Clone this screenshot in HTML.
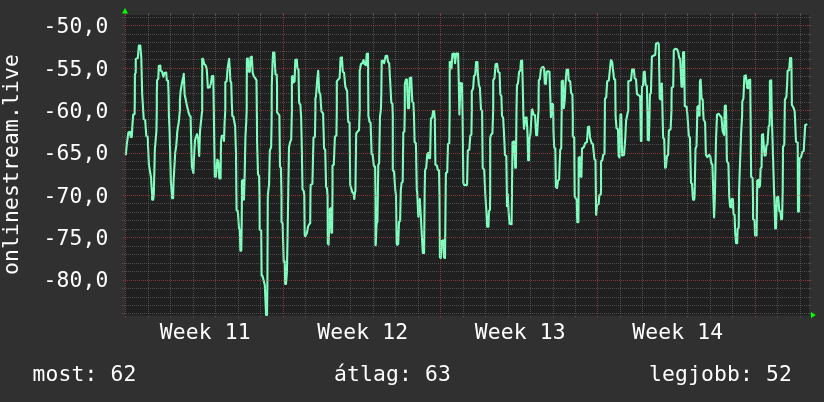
<!DOCTYPE html>
<html><head><meta charset="utf-8"><title>onlinestream.live</title>
<style>
html,body{margin:0;padding:0;background:#303030;}
body{width:824px;height:402px;overflow:hidden;}
svg{display:block;will-change:transform;}
text{letter-spacing:0.158px;font-family:"DejaVu Sans Mono","Liberation Mono",monospace;font-size:21.33px;fill:#ffffff;}
</style></head><body>
<svg width="824" height="402" viewBox="0 0 824 402">
<rect x="0" y="0" width="824" height="402" fill="#303030"/>
<rect x="125" y="15" width="684" height="300.4" fill="#202020"/>

<polyline points="125.8,154.3 126.7,145.1 128.4,132.5 130.1,131.8 130.6,137.0 131.8,137.0 132.3,126.9 133.2,114.7 134.6,114.1 134.8,100.0 134.9,74.3 135.7,72.8 135.8,58.9 137.8,58.0 138.9,45.6 140.3,45.6 141.3,57.8 142.2,94.2 143.5,115.6 143.7,119.0 145.2,120.3 146.3,135.9 147.8,137.0 148.0,145.1 148.9,164.6 151.0,177.4 152.1,194.5 152.1,199.6 153.2,199.6 153.8,194.5 154.9,148.5 156.4,131.4 156.8,110.0 156.8,94.2 157.1,80.1 158.3,78.8 158.8,65.9 160.3,65.5 160.7,70.7 162.1,71.7 163.4,76.8 164.4,73.0 166.2,72.6 166.8,80.3 168.1,80.7 168.6,95.0 168.9,115.6 169.6,131.4 170.9,182.7 172.0,194.5 172.0,198.1 173.1,198.1 173.5,182.7 175.2,152.8 176.3,145.3 177.3,131.4 178.8,121.8 179.9,110.0 179.9,100.6 180.6,91.0 182.1,82.4 183.8,73.9 184.6,94.2 186.8,104.9 188.5,112.4 189.8,116.0 190.6,116.4 191.2,142.1 191.9,166.7 193.4,173.1 194.2,152.8 195.1,139.9 197.0,134.2 198.1,137.8 199.2,156.0 200.0,131.4 201.3,118.6 202.2,110.0 202.2,94.2 202.2,58.9 203.0,58.9 204.3,64.2 205.6,65.3 206.7,68.5 207.9,87.8 209.6,87.3 210.9,83.5 212.0,76.0 213.3,76.0 213.9,116.0 214.1,131.4 214.8,176.8 215.8,176.8 217.3,159.6 218.4,161.3 219.3,178.5 220.6,178.5 221.0,142.1 221.8,135.7 223.6,135.7 224.0,141.0 224.6,122.8 225.3,110.0 225.3,94.2 225.3,82.4 226.6,81.3 227.6,68.5 229.1,58.9 229.8,68.5 230.4,81.3 231.2,82.4 231.9,104.9 232.3,116.0 233.4,116.4 235.1,126.0 236.0,152.8 236.4,195.6 236.6,210.3 237.9,211.4 239.0,228.5 239.8,229.6 240.4,250.6 241.3,250.6 241.7,222.1 241.9,200.7 241.9,180.6 243.4,180.0 243.9,199.6 244.7,174.2 245.4,137.8 246.2,122.8 246.7,110.0 246.7,94.2 246.9,58.7 247.9,58.5 248.9,71.7 249.8,71.7 250.5,57.4 251.8,56.7 252.7,72.8 253.7,76.0 255.2,78.1 256.5,80.3 256.9,116.0 257.1,142.1 258.0,174.2 259.1,176.3 259.5,195.6 259.7,229.6 261.2,230.7 261.6,275.6 262.3,275.3 264.8,284.9 266.1,314.9 267.0,314.9 267.4,282.8 267.6,240.0 267.8,195.6 269.1,183.8 269.8,150.7 271.1,147.4 271.6,122.8 271.7,110.0 271.7,100.6 271.8,85.0 272.6,62.3 273.1,52.5 274.4,52.5 274.8,62.3 275.5,74.3 276.7,74.7 277.0,85.0 277.1,112.4 279.4,115.3 280.0,166.7 280.9,167.8 281.5,195.6 281.5,222.1 282.6,223.2 283.7,261.7 284.7,262.7 284.7,261.4 285.2,283.9 286.0,283.9 286.9,272.1 287.5,240.0 288.2,195.6 289.0,147.4 290.1,142.1 291.2,139.9 291.9,110.0 291.9,94.2 291.9,77.1 292.5,76.0 293.6,82.4 294.6,81.3 295.3,60.0 296.8,59.5 297.4,68.5 298.5,69.6 299.1,102.7 300.4,104.9 301.1,116.0 301.7,142.1 302.5,189.2 303.8,191.3 304.3,196.0 304.7,234.9 305.3,236.2 307.0,232.8 308.1,226.4 309.2,224.2 310.2,223.2 310.5,190.0 310.7,184.9 312.4,183.8 313.5,137.8 314.9,136.7 315.4,110.0 315.4,98.5 316.0,96.3 317.1,81.3 318.2,70.7 319.2,92.0 320.3,94.2 321.4,111.3 323.1,113.4 323.1,114.3 324.1,148.5 325.2,149.6 326.1,187.0 326.9,188.1 327.6,196.0 327.8,243.5 328.6,244.6 329.7,209.3 330.6,208.2 331.4,232.8 332.1,232.8 332.5,190.0 332.5,165.6 333.8,164.6 334.9,136.7 336.4,135.7 336.8,110.0 336.8,81.3 338.5,79.2 339.6,78.1 340.6,57.8 341.9,57.4 342.8,71.7 344.1,72.8 345.3,86.7 347.1,91.0 347.9,116.0 348.3,121.8 349.6,122.8 350.2,184.9 352.4,192.4 353.5,193.2 354.3,199.0 355.0,192.1 355.4,191.3 356.2,133.5 357.7,131.4 359.0,130.3 359.7,110.0 359.7,70.7 360.9,64.2 362.4,63.2 363.5,60.0 364.6,64.2 365.9,65.3 366.7,54.0 368.0,53.5 368.4,116.0 369.5,121.8 370.6,122.8 371.6,153.9 372.7,154.9 373.8,165.6 375.1,166.7 375.5,196.0 375.5,222.1 375.5,245.2 375.7,245.2 376.6,223.2 377.4,222.1 377.9,190.0 378.3,164.6 379.1,163.5 380.0,116.4 380.9,110.0 381.3,94.2 381.7,61.0 383.0,60.6 384.1,63.2 385.6,56.1 387.1,55.7 388.1,62.1 389.2,63.2 390.3,83.5 391.3,102.7 392.4,103.8 392.8,116.0 392.8,169.9 394.1,172.1 395.2,189.2 396.0,196.0 396.7,243.5 397.3,244.8 398.2,243.9 399.0,222.1 400.1,221.0 400.8,190.0 401.6,182.7 402.7,181.7 403.3,132.5 404.4,131.4 404.8,110.0 404.8,84.6 405.9,79.6 406.9,79.6 408.0,108.1 409.1,108.1 409.7,78.1 411.2,77.5 412.3,101.7 413.4,102.7 414.0,116.0 414.6,142.1 415.9,143.2 416.8,190.2 417.2,192.1 418.3,216.7 419.8,199.0 421.3,225.3 422.8,252.9 424.1,252.9 424.7,190.0 425.1,169.9 426.2,167.8 427.3,153.9 428.4,152.8 429.0,158.1 430.1,158.1 430.9,118.6 432.2,117.5 433.1,111.1 434.1,111.1 434.8,118.6 435.4,164.6 436.9,165.6 437.8,169.9 439.0,170.3 439.5,196.0 439.9,257.4 440.8,258.0 441.8,240.9 443.3,240.3 444.0,257.4 445.0,258.0 445.7,190.0 445.9,173.1 447.2,172.1 448.0,144.2 449.3,143.2 449.7,110.0 449.7,62.1 450.9,61.7 451.5,68.5 452.4,54.0 454.1,53.5 455.1,63.2 456.2,53.5 458.1,53.5 458.8,83.5 459.4,114.5 460.3,85.6 460.7,83.1 462.0,83.5 462.6,116.0 463.3,182.7 464.1,184.9 466.7,185.3 467.1,183.8 467.8,150.7 469.3,149.6 470.3,135.7 471.4,134.6 471.8,110.0 471.8,98.5 471.8,91.0 473.1,88.8 474.0,76.0 475.2,74.9 476.1,62.1 477.4,62.1 477.8,72.8 478.9,85.6 479.9,87.8 481.0,109.2 482.1,111.3 482.7,167.8 484.2,169.9 485.3,194.5 486.4,211.4 487.2,226.8 488.5,226.8 488.9,211.4 490.0,209.7 490.2,190.0 490.2,137.8 491.1,134.6 492.4,133.5 493.2,110.0 493.2,94.2 493.2,80.3 494.5,78.1 495.6,64.2 497.1,63.8 498.1,71.7 499.6,72.8 500.3,94.2 501.4,96.3 502.0,116.0 503.1,117.5 503.9,131.4 505.0,154.9 506.3,156.0 506.9,194.5 506.9,206.1 507.8,194.3 508.6,211.4 509.5,223.8 511.6,224.2 512.0,190.0 512.5,142.1 514.0,141.4 515.2,167.8 515.9,167.8 516.5,110.0 516.8,94.2 517.0,84.6 518.0,83.5 519.1,71.7 520.2,70.7 521.0,61.0 522.1,60.6 522.7,83.5 523.4,116.0 524.0,128.8 525.5,117.5 526.6,117.5 527.5,133.5 528.1,160.3 529.0,160.3 529.3,139.9 530.5,133.5 531.8,110.0 532.4,109.4 533.6,114.5 535.0,115.1 536.2,135.2 537.1,135.2 538.2,115.1 538.6,110.0 538.6,94.2 538.8,80.3 539.9,79.2 540.9,69.6 542.0,67.4 543.1,66.8 544.1,68.5 544.8,83.5 545.9,83.9 546.7,71.7 548.0,71.3 549.5,71.7 550.2,94.2 550.9,117.1 552.3,103.8 553.1,104.5 553.3,116.0 553.5,131.4 554.2,147.4 555.3,148.5 555.9,187.0 557.0,188.1 558.0,180.6 559.1,179.5 560.2,149.6 561.2,148.5 561.7,110.0 561.7,81.3 562.8,80.5 563.8,108.1 564.7,100.6 565.5,83.5 566.6,69.8 568.1,69.6 568.7,80.3 570.2,81.3 571.1,93.1 572.4,94.2 572.8,116.0 572.8,136.3 574.2,137.4 574.7,196.0 575.8,198.6 576.7,199.6 577.3,222.1 578.4,222.1 578.6,190.0 578.6,158.1 579.6,157.1 580.5,176.3 581.4,176.8 582.0,148.5 583.7,147.4 585.2,143.2 586.9,142.1 588.0,127.1 589.1,126.7 590.1,137.8 591.6,143.2 592.9,144.2 594.4,159.2 595.5,160.3 595.9,196.0 596.1,214.8 597.2,205.0 598.7,203.9 599.3,195.3 600.8,194.3 601.0,190.0 601.0,161.3 602.3,160.3 603.2,154.9 604.5,153.9 604.9,110.0 604.9,100.6 605.1,98.5 606.2,97.4 607.2,81.3 608.8,80.3 610.0,68.5 610.9,60.0 612.2,62.1 613.0,69.6 614.1,79.2 615.2,79.6 615.6,116.0 616.5,128.2 618.0,129.3 618.6,156.0 619.5,157.5 620.4,114.7 621.2,114.3 622.1,155.4 624.0,154.9 625.3,137.8 626.1,120.7 627.4,114.3 628.3,110.0 628.3,102.7 628.3,81.3 629.5,80.9 631.0,80.3 632.1,69.6 633.8,69.2 634.7,78.1 636.0,79.2 637.0,94.2 638.5,95.2 640.2,96.3 640.9,141.0 641.5,141.0 642.0,86.7 643.0,85.6 643.7,72.4 644.7,71.7 645.6,84.6 646.9,86.0 647.5,116.0 647.7,139.9 648.8,140.4 649.5,116.0 649.9,94.2 650.9,93.1 651.9,56.7 653.5,55.7 655.2,54.8 656.0,43.7 658.0,42.7 658.8,44.5 659.4,80.1 659.7,98.5 660.4,99.5 660.9,84.6 661.9,83.5 662.6,116.0 663.1,137.8 664.2,138.9 665.1,167.8 665.9,167.3 667.0,156.0 668.1,154.9 668.9,130.3 670.6,129.3 671.5,110.0 671.5,102.7 671.7,87.8 673.2,86.7 673.8,50.3 675.3,48.8 677.0,49.3 678.1,51.4 679.2,57.8 680.2,58.9 681.5,86.7 682.4,86.7 683.0,52.5 684.1,52.0 684.8,106.0 686.7,107.0 687.5,116.0 688.8,135.7 689.9,137.8 691.0,182.7 692.0,183.8 692.7,196.0 693.1,199.6 694.2,199.6 694.6,196.0 695.5,148.5 696.5,146.4 697.2,116.0 697.4,107.0 698.4,106.0 698.8,115.6 699.6,115.6 699.9,81.3 700.6,79.6 701.6,98.5 702.7,99.5 703.4,116.0 703.7,119.6 705.1,122.4 705.9,154.9 707.4,157.1 709.1,154.9 710.2,156.0 711.3,163.5 712.4,164.6 713.4,196.0 714.1,217.4 714.9,196.0 716.0,139.9 717.0,114.7 718.8,113.8 720.3,116.0 721.5,117.5 722.6,131.0 724.1,135.0 724.5,116.0 724.8,106.0 725.8,105.5 726.2,116.4 726.9,161.3 728.4,163.5 729.2,196.0 730.1,206.7 731.2,207.5 731.8,199.0 732.9,199.0 733.5,214.0 734.6,214.8 735.2,232.8 736.1,243.1 737.2,243.1 737.6,228.9 738.7,227.7 739.1,190.0 740.0,163.5 741.2,131.4 742.1,116.0 742.3,101.7 743.4,98.5 744.4,76.0 745.9,75.4 747.2,87.8 748.1,88.2 748.7,80.3 750.2,79.6 750.6,116.0 751.1,176.8 752.6,178.0 753.0,196.0 753.1,218.9 754.5,220.2 755.1,235.4 756.6,235.4 757.1,196.0 757.2,180.8 758.5,179.8 759.0,187.2 760.0,186.2 760.6,168.4 761.6,167.3 762.0,134.6 763.0,134.2 764.5,155.4 765.6,155.4 766.5,145.3 767.5,144.2 768.6,126.7 769.5,125.4 769.9,110.0 769.9,94.2 769.9,80.9 771.2,80.3 771.8,116.0 772.9,152.8 774.2,196.0 774.4,196.4 775.2,228.5 775.9,228.5 777.0,197.5 778.2,196.8 779.3,211.0 780.4,211.4 781.2,219.3 782.1,218.9 782.7,190.0 783.0,150.7 783.0,146.9 784.3,144.8 784.9,99.8 786.4,96.7 787.3,80.0 787.6,70.8 789.1,70.3 790.1,58.0 791.2,58.0 791.5,69.3 791.6,80.0 791.9,105.0 793.3,107.2 794.7,111.3 796.0,141.6 797.7,142.7 798.0,211.6 798.9,211.6 799.5,158.4 801.0,157.3 802.3,152.1 803.7,151.0 805.2,124.9 806.6,124.5" fill="none" stroke="#7fffbf" stroke-width="2.1" stroke-linejoin="round" stroke-linecap="round"/>
<g shape-rendering="crispEdges" fill="none" stroke-width="1" stroke-dasharray="1 1">
<line x1="122" y1="313.5" x2="808" y2="313.5" stroke="#8f8f8f" stroke-opacity="0.4"/>
<line x1="122" y1="305.5" x2="808" y2="305.5" stroke="#8f8f8f" stroke-opacity="0.4"/>
<line x1="122" y1="297.5" x2="808" y2="297.5" stroke="#8f8f8f" stroke-opacity="0.4"/>
<line x1="122" y1="288.5" x2="808" y2="288.5" stroke="#8f8f8f" stroke-opacity="0.4"/>
<line x1="123" y1="280.5" x2="808" y2="280.5" stroke="#de5050" stroke-opacity="0.52"/>
<line x1="122" y1="271.5" x2="808" y2="271.5" stroke="#8f8f8f" stroke-opacity="0.4"/>
<line x1="122" y1="263.5" x2="808" y2="263.5" stroke="#8f8f8f" stroke-opacity="0.4"/>
<line x1="122" y1="254.5" x2="808" y2="254.5" stroke="#8f8f8f" stroke-opacity="0.4"/>
<line x1="122" y1="246.5" x2="808" y2="246.5" stroke="#8f8f8f" stroke-opacity="0.4"/>
<line x1="123" y1="237.5" x2="808" y2="237.5" stroke="#de5050" stroke-opacity="0.52"/>
<line x1="122" y1="229.5" x2="808" y2="229.5" stroke="#8f8f8f" stroke-opacity="0.4"/>
<line x1="122" y1="220.5" x2="808" y2="220.5" stroke="#8f8f8f" stroke-opacity="0.4"/>
<line x1="122" y1="212.5" x2="808" y2="212.5" stroke="#8f8f8f" stroke-opacity="0.4"/>
<line x1="122" y1="203.5" x2="808" y2="203.5" stroke="#8f8f8f" stroke-opacity="0.4"/>
<line x1="123" y1="195.5" x2="808" y2="195.5" stroke="#de5050" stroke-opacity="0.52"/>
<line x1="122" y1="186.5" x2="808" y2="186.5" stroke="#8f8f8f" stroke-opacity="0.4"/>
<line x1="122" y1="178.5" x2="808" y2="178.5" stroke="#8f8f8f" stroke-opacity="0.4"/>
<line x1="122" y1="169.5" x2="808" y2="169.5" stroke="#8f8f8f" stroke-opacity="0.4"/>
<line x1="122" y1="161.5" x2="808" y2="161.5" stroke="#8f8f8f" stroke-opacity="0.4"/>
<line x1="123" y1="153.5" x2="808" y2="153.5" stroke="#de5050" stroke-opacity="0.52"/>
<line x1="122" y1="144.5" x2="808" y2="144.5" stroke="#8f8f8f" stroke-opacity="0.4"/>
<line x1="122" y1="136.5" x2="808" y2="136.5" stroke="#8f8f8f" stroke-opacity="0.4"/>
<line x1="122" y1="127.5" x2="808" y2="127.5" stroke="#8f8f8f" stroke-opacity="0.4"/>
<line x1="122" y1="119.5" x2="808" y2="119.5" stroke="#8f8f8f" stroke-opacity="0.4"/>
<line x1="123" y1="110.5" x2="808" y2="110.5" stroke="#de5050" stroke-opacity="0.52"/>
<line x1="122" y1="102.5" x2="808" y2="102.5" stroke="#8f8f8f" stroke-opacity="0.4"/>
<line x1="122" y1="93.5" x2="808" y2="93.5" stroke="#8f8f8f" stroke-opacity="0.4"/>
<line x1="122" y1="85.5" x2="808" y2="85.5" stroke="#8f8f8f" stroke-opacity="0.4"/>
<line x1="122" y1="76.5" x2="808" y2="76.5" stroke="#8f8f8f" stroke-opacity="0.4"/>
<line x1="123" y1="68.5" x2="808" y2="68.5" stroke="#de5050" stroke-opacity="0.52"/>
<line x1="122" y1="59.5" x2="808" y2="59.5" stroke="#8f8f8f" stroke-opacity="0.4"/>
<line x1="122" y1="51.5" x2="808" y2="51.5" stroke="#8f8f8f" stroke-opacity="0.4"/>
<line x1="122" y1="42.5" x2="808" y2="42.5" stroke="#8f8f8f" stroke-opacity="0.4"/>
<line x1="122" y1="34.5" x2="808" y2="34.5" stroke="#8f8f8f" stroke-opacity="0.4"/>
<line x1="123" y1="25.5" x2="808" y2="25.5" stroke="#de5050" stroke-opacity="0.52"/>
<line x1="122" y1="17.5" x2="808" y2="17.5" stroke="#8f8f8f" stroke-opacity="0.4"/>
<line x1="125.5" y1="15" x2="125.5" y2="315" stroke="#de5050" stroke-opacity="0.52"/>
<line x1="148.5" y1="15" x2="148.5" y2="315" stroke="#8f8f8f" stroke-opacity="0.4"/>
<line x1="170.5" y1="15" x2="170.5" y2="315" stroke="#8f8f8f" stroke-opacity="0.4"/>
<line x1="193.5" y1="15" x2="193.5" y2="315" stroke="#8f8f8f" stroke-opacity="0.4"/>
<line x1="215.5" y1="15" x2="215.5" y2="315" stroke="#8f8f8f" stroke-opacity="0.4"/>
<line x1="238.5" y1="15" x2="238.5" y2="315" stroke="#8f8f8f" stroke-opacity="0.4"/>
<line x1="260.5" y1="15" x2="260.5" y2="315" stroke="#8f8f8f" stroke-opacity="0.4"/>
<line x1="283.5" y1="15" x2="283.5" y2="315" stroke="#de5050" stroke-opacity="0.52"/>
<line x1="305.5" y1="15" x2="305.5" y2="315" stroke="#8f8f8f" stroke-opacity="0.4"/>
<line x1="328.5" y1="15" x2="328.5" y2="315" stroke="#8f8f8f" stroke-opacity="0.4"/>
<line x1="350.5" y1="15" x2="350.5" y2="315" stroke="#8f8f8f" stroke-opacity="0.4"/>
<line x1="373.5" y1="15" x2="373.5" y2="315" stroke="#8f8f8f" stroke-opacity="0.4"/>
<line x1="395.5" y1="15" x2="395.5" y2="315" stroke="#8f8f8f" stroke-opacity="0.4"/>
<line x1="418.5" y1="15" x2="418.5" y2="315" stroke="#8f8f8f" stroke-opacity="0.4"/>
<line x1="440.5" y1="15" x2="440.5" y2="315" stroke="#de5050" stroke-opacity="0.52"/>
<line x1="463.5" y1="15" x2="463.5" y2="315" stroke="#8f8f8f" stroke-opacity="0.4"/>
<line x1="485.5" y1="15" x2="485.5" y2="315" stroke="#8f8f8f" stroke-opacity="0.4"/>
<line x1="508.5" y1="15" x2="508.5" y2="315" stroke="#8f8f8f" stroke-opacity="0.4"/>
<line x1="530.5" y1="15" x2="530.5" y2="315" stroke="#8f8f8f" stroke-opacity="0.4"/>
<line x1="553.5" y1="15" x2="553.5" y2="315" stroke="#8f8f8f" stroke-opacity="0.4"/>
<line x1="575.5" y1="15" x2="575.5" y2="315" stroke="#8f8f8f" stroke-opacity="0.4"/>
<line x1="597.5" y1="15" x2="597.5" y2="315" stroke="#de5050" stroke-opacity="0.52"/>
<line x1="620.5" y1="15" x2="620.5" y2="315" stroke="#8f8f8f" stroke-opacity="0.4"/>
<line x1="642.5" y1="15" x2="642.5" y2="315" stroke="#8f8f8f" stroke-opacity="0.4"/>
<line x1="665.5" y1="15" x2="665.5" y2="315" stroke="#8f8f8f" stroke-opacity="0.4"/>
<line x1="687.5" y1="15" x2="687.5" y2="315" stroke="#8f8f8f" stroke-opacity="0.4"/>
<line x1="710.5" y1="15" x2="710.5" y2="315" stroke="#8f8f8f" stroke-opacity="0.4"/>
<line x1="732.5" y1="15" x2="732.5" y2="315" stroke="#8f8f8f" stroke-opacity="0.4"/>
<line x1="755.5" y1="15" x2="755.5" y2="315" stroke="#de5050" stroke-opacity="0.52"/>
<line x1="777.5" y1="15" x2="777.5" y2="315" stroke="#8f8f8f" stroke-opacity="0.4"/>
<line x1="800.5" y1="15" x2="800.5" y2="315" stroke="#8f8f8f" stroke-opacity="0.4"/>
</g>
<g shape-rendering="crispEdges" fill="none" stroke-width="1"><line x1="808" y1="313.5" x2="811" y2="313.5" stroke="#8f8f8f" stroke-opacity="0.32"/><line x1="808" y1="305.5" x2="811" y2="305.5" stroke="#8f8f8f" stroke-opacity="0.32"/><line x1="808" y1="297.5" x2="811" y2="297.5" stroke="#8f8f8f" stroke-opacity="0.32"/><line x1="808" y1="288.5" x2="811" y2="288.5" stroke="#8f8f8f" stroke-opacity="0.32"/><line x1="808" y1="280.5" x2="811" y2="280.5" stroke="#de5050" stroke-opacity="0.42"/><line x1="808" y1="271.5" x2="811" y2="271.5" stroke="#8f8f8f" stroke-opacity="0.32"/><line x1="808" y1="263.5" x2="811" y2="263.5" stroke="#8f8f8f" stroke-opacity="0.32"/><line x1="808" y1="254.5" x2="811" y2="254.5" stroke="#8f8f8f" stroke-opacity="0.32"/><line x1="808" y1="246.5" x2="811" y2="246.5" stroke="#8f8f8f" stroke-opacity="0.32"/><line x1="808" y1="237.5" x2="811" y2="237.5" stroke="#de5050" stroke-opacity="0.42"/><line x1="808" y1="229.5" x2="811" y2="229.5" stroke="#8f8f8f" stroke-opacity="0.32"/><line x1="808" y1="220.5" x2="811" y2="220.5" stroke="#8f8f8f" stroke-opacity="0.32"/><line x1="808" y1="212.5" x2="811" y2="212.5" stroke="#8f8f8f" stroke-opacity="0.32"/><line x1="808" y1="203.5" x2="811" y2="203.5" stroke="#8f8f8f" stroke-opacity="0.32"/><line x1="808" y1="195.5" x2="811" y2="195.5" stroke="#de5050" stroke-opacity="0.42"/><line x1="808" y1="186.5" x2="811" y2="186.5" stroke="#8f8f8f" stroke-opacity="0.32"/><line x1="808" y1="178.5" x2="811" y2="178.5" stroke="#8f8f8f" stroke-opacity="0.32"/><line x1="808" y1="169.5" x2="811" y2="169.5" stroke="#8f8f8f" stroke-opacity="0.32"/><line x1="808" y1="161.5" x2="811" y2="161.5" stroke="#8f8f8f" stroke-opacity="0.32"/><line x1="808" y1="153.5" x2="811" y2="153.5" stroke="#de5050" stroke-opacity="0.42"/><line x1="808" y1="144.5" x2="811" y2="144.5" stroke="#8f8f8f" stroke-opacity="0.32"/><line x1="808" y1="136.5" x2="811" y2="136.5" stroke="#8f8f8f" stroke-opacity="0.32"/><line x1="808" y1="127.5" x2="811" y2="127.5" stroke="#8f8f8f" stroke-opacity="0.32"/><line x1="808" y1="119.5" x2="811" y2="119.5" stroke="#8f8f8f" stroke-opacity="0.32"/><line x1="808" y1="110.5" x2="811" y2="110.5" stroke="#de5050" stroke-opacity="0.42"/><line x1="808" y1="102.5" x2="811" y2="102.5" stroke="#8f8f8f" stroke-opacity="0.32"/><line x1="808" y1="93.5" x2="811" y2="93.5" stroke="#8f8f8f" stroke-opacity="0.32"/><line x1="808" y1="85.5" x2="811" y2="85.5" stroke="#8f8f8f" stroke-opacity="0.32"/><line x1="808" y1="76.5" x2="811" y2="76.5" stroke="#8f8f8f" stroke-opacity="0.32"/><line x1="808" y1="68.5" x2="811" y2="68.5" stroke="#de5050" stroke-opacity="0.42"/><line x1="808" y1="59.5" x2="811" y2="59.5" stroke="#8f8f8f" stroke-opacity="0.32"/><line x1="808" y1="51.5" x2="811" y2="51.5" stroke="#8f8f8f" stroke-opacity="0.32"/><line x1="808" y1="42.5" x2="811" y2="42.5" stroke="#8f8f8f" stroke-opacity="0.32"/><line x1="808" y1="34.5" x2="811" y2="34.5" stroke="#8f8f8f" stroke-opacity="0.32"/><line x1="808" y1="25.5" x2="811" y2="25.5" stroke="#de5050" stroke-opacity="0.42"/><line x1="808" y1="17.5" x2="811" y2="17.5" stroke="#8f8f8f" stroke-opacity="0.32"/><line x1="125.5" y1="13" x2="125.5" y2="15.5" stroke="#de5050" stroke-opacity="0.36"/><line x1="125.5" y1="315.5" x2="125.5" y2="317.5" stroke="#de5050" stroke-opacity="0.36"/><line x1="148.5" y1="13" x2="148.5" y2="15.5" stroke="#8f8f8f" stroke-opacity="0.28"/><line x1="148.5" y1="315.5" x2="148.5" y2="317.5" stroke="#8f8f8f" stroke-opacity="0.28"/><line x1="170.5" y1="13" x2="170.5" y2="15.5" stroke="#8f8f8f" stroke-opacity="0.28"/><line x1="170.5" y1="315.5" x2="170.5" y2="317.5" stroke="#8f8f8f" stroke-opacity="0.28"/><line x1="193.5" y1="13" x2="193.5" y2="15.5" stroke="#8f8f8f" stroke-opacity="0.28"/><line x1="193.5" y1="315.5" x2="193.5" y2="317.5" stroke="#8f8f8f" stroke-opacity="0.28"/><line x1="215.5" y1="13" x2="215.5" y2="15.5" stroke="#8f8f8f" stroke-opacity="0.28"/><line x1="215.5" y1="315.5" x2="215.5" y2="317.5" stroke="#8f8f8f" stroke-opacity="0.28"/><line x1="238.5" y1="13" x2="238.5" y2="15.5" stroke="#8f8f8f" stroke-opacity="0.28"/><line x1="238.5" y1="315.5" x2="238.5" y2="317.5" stroke="#8f8f8f" stroke-opacity="0.28"/><line x1="260.5" y1="13" x2="260.5" y2="15.5" stroke="#8f8f8f" stroke-opacity="0.28"/><line x1="260.5" y1="315.5" x2="260.5" y2="317.5" stroke="#8f8f8f" stroke-opacity="0.28"/><line x1="283.5" y1="13" x2="283.5" y2="15.5" stroke="#de5050" stroke-opacity="0.36"/><line x1="283.5" y1="315.5" x2="283.5" y2="317.5" stroke="#de5050" stroke-opacity="0.36"/><line x1="305.5" y1="13" x2="305.5" y2="15.5" stroke="#8f8f8f" stroke-opacity="0.28"/><line x1="305.5" y1="315.5" x2="305.5" y2="317.5" stroke="#8f8f8f" stroke-opacity="0.28"/><line x1="328.5" y1="13" x2="328.5" y2="15.5" stroke="#8f8f8f" stroke-opacity="0.28"/><line x1="328.5" y1="315.5" x2="328.5" y2="317.5" stroke="#8f8f8f" stroke-opacity="0.28"/><line x1="350.5" y1="13" x2="350.5" y2="15.5" stroke="#8f8f8f" stroke-opacity="0.28"/><line x1="350.5" y1="315.5" x2="350.5" y2="317.5" stroke="#8f8f8f" stroke-opacity="0.28"/><line x1="373.5" y1="13" x2="373.5" y2="15.5" stroke="#8f8f8f" stroke-opacity="0.28"/><line x1="373.5" y1="315.5" x2="373.5" y2="317.5" stroke="#8f8f8f" stroke-opacity="0.28"/><line x1="395.5" y1="13" x2="395.5" y2="15.5" stroke="#8f8f8f" stroke-opacity="0.28"/><line x1="395.5" y1="315.5" x2="395.5" y2="317.5" stroke="#8f8f8f" stroke-opacity="0.28"/><line x1="418.5" y1="13" x2="418.5" y2="15.5" stroke="#8f8f8f" stroke-opacity="0.28"/><line x1="418.5" y1="315.5" x2="418.5" y2="317.5" stroke="#8f8f8f" stroke-opacity="0.28"/><line x1="440.5" y1="13" x2="440.5" y2="15.5" stroke="#de5050" stroke-opacity="0.36"/><line x1="440.5" y1="315.5" x2="440.5" y2="317.5" stroke="#de5050" stroke-opacity="0.36"/><line x1="463.5" y1="13" x2="463.5" y2="15.5" stroke="#8f8f8f" stroke-opacity="0.28"/><line x1="463.5" y1="315.5" x2="463.5" y2="317.5" stroke="#8f8f8f" stroke-opacity="0.28"/><line x1="485.5" y1="13" x2="485.5" y2="15.5" stroke="#8f8f8f" stroke-opacity="0.28"/><line x1="485.5" y1="315.5" x2="485.5" y2="317.5" stroke="#8f8f8f" stroke-opacity="0.28"/><line x1="508.5" y1="13" x2="508.5" y2="15.5" stroke="#8f8f8f" stroke-opacity="0.28"/><line x1="508.5" y1="315.5" x2="508.5" y2="317.5" stroke="#8f8f8f" stroke-opacity="0.28"/><line x1="530.5" y1="13" x2="530.5" y2="15.5" stroke="#8f8f8f" stroke-opacity="0.28"/><line x1="530.5" y1="315.5" x2="530.5" y2="317.5" stroke="#8f8f8f" stroke-opacity="0.28"/><line x1="553.5" y1="13" x2="553.5" y2="15.5" stroke="#8f8f8f" stroke-opacity="0.28"/><line x1="553.5" y1="315.5" x2="553.5" y2="317.5" stroke="#8f8f8f" stroke-opacity="0.28"/><line x1="575.5" y1="13" x2="575.5" y2="15.5" stroke="#8f8f8f" stroke-opacity="0.28"/><line x1="575.5" y1="315.5" x2="575.5" y2="317.5" stroke="#8f8f8f" stroke-opacity="0.28"/><line x1="597.5" y1="13" x2="597.5" y2="15.5" stroke="#de5050" stroke-opacity="0.36"/><line x1="597.5" y1="315.5" x2="597.5" y2="317.5" stroke="#de5050" stroke-opacity="0.36"/><line x1="620.5" y1="13" x2="620.5" y2="15.5" stroke="#8f8f8f" stroke-opacity="0.28"/><line x1="620.5" y1="315.5" x2="620.5" y2="317.5" stroke="#8f8f8f" stroke-opacity="0.28"/><line x1="642.5" y1="13" x2="642.5" y2="15.5" stroke="#8f8f8f" stroke-opacity="0.28"/><line x1="642.5" y1="315.5" x2="642.5" y2="317.5" stroke="#8f8f8f" stroke-opacity="0.28"/><line x1="665.5" y1="13" x2="665.5" y2="15.5" stroke="#8f8f8f" stroke-opacity="0.28"/><line x1="665.5" y1="315.5" x2="665.5" y2="317.5" stroke="#8f8f8f" stroke-opacity="0.28"/><line x1="687.5" y1="13" x2="687.5" y2="15.5" stroke="#8f8f8f" stroke-opacity="0.28"/><line x1="687.5" y1="315.5" x2="687.5" y2="317.5" stroke="#8f8f8f" stroke-opacity="0.28"/><line x1="710.5" y1="13" x2="710.5" y2="15.5" stroke="#8f8f8f" stroke-opacity="0.28"/><line x1="710.5" y1="315.5" x2="710.5" y2="317.5" stroke="#8f8f8f" stroke-opacity="0.28"/><line x1="732.5" y1="13" x2="732.5" y2="15.5" stroke="#8f8f8f" stroke-opacity="0.28"/><line x1="732.5" y1="315.5" x2="732.5" y2="317.5" stroke="#8f8f8f" stroke-opacity="0.28"/><line x1="755.5" y1="13" x2="755.5" y2="15.5" stroke="#de5050" stroke-opacity="0.36"/><line x1="755.5" y1="315.5" x2="755.5" y2="317.5" stroke="#de5050" stroke-opacity="0.36"/><line x1="777.5" y1="13" x2="777.5" y2="15.5" stroke="#8f8f8f" stroke-opacity="0.28"/><line x1="777.5" y1="315.5" x2="777.5" y2="317.5" stroke="#8f8f8f" stroke-opacity="0.28"/><line x1="800.5" y1="13" x2="800.5" y2="15.5" stroke="#8f8f8f" stroke-opacity="0.28"/><line x1="800.5" y1="315.5" x2="800.5" y2="317.5" stroke="#8f8f8f" stroke-opacity="0.28"/></g>
<polygon points="122,13.5 128,13.5 125,8" fill="#00ff00"/>
<polygon points="811,312 811,318.2 815.8,315.1" fill="#00ff00"/>
<text x="108.5" y="287.4" text-anchor="end">-80,0</text>
<text x="108.5" y="245.0" text-anchor="end">-75,0</text>
<text x="108.5" y="202.7" text-anchor="end">-70,0</text>
<text x="108.5" y="160.3" text-anchor="end">-65,0</text>
<text x="108.5" y="118.0" text-anchor="end">-60,0</text>
<text x="108.5" y="75.6" text-anchor="end">-55,0</text>
<text x="108.5" y="33.2" text-anchor="end">-50,0</text>
<text x="205.2" y="339" text-anchor="middle" xml:space="preserve">Week 11</text>
<text x="362.8" y="339" text-anchor="middle" xml:space="preserve">Week 12</text>
<text x="520.2" y="339" text-anchor="middle" xml:space="preserve">Week 13</text>
<text x="677.8" y="339" text-anchor="middle" xml:space="preserve">Week 14</text>
<text transform="translate(17.8,164.6) rotate(-90)" text-anchor="middle">onlinestream.live</text>
<text x="32.5" y="381" xml:space="preserve">most: 62</text>
<text x="334" y="381" xml:space="preserve">átlag: 63</text>
<text x="649" y="381" xml:space="preserve">legjobb: 52</text>
</svg></body></html>
